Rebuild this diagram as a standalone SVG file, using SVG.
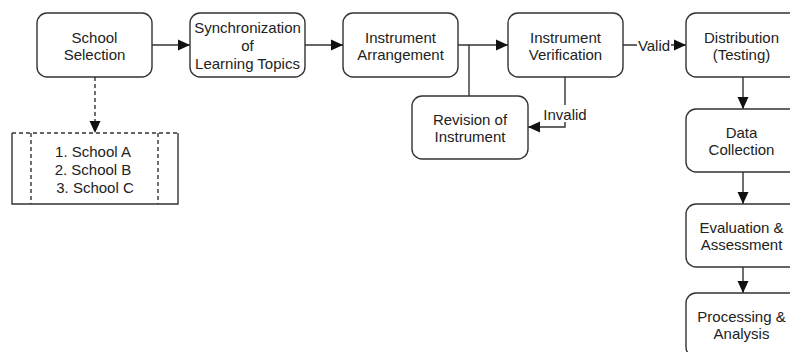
<svg xmlns="http://www.w3.org/2000/svg" width="790" height="352" viewBox="0 0 790 352">
<defs>
<marker id="arr" markerWidth="12" markerHeight="12" refX="12" refY="6" orient="auto" markerUnits="userSpaceOnUse">
<path d="M0,0.5 L12,6 L0,11.5 z" fill="#111"/>
</marker>
<style>
.box{fill:#fff;stroke:#333;stroke-width:1.4}
.ln{fill:none;stroke:#333;stroke-width:1.4}
.dash{fill:none;stroke:#333;stroke-width:1.4;stroke-dasharray:4 3}
text{font-family:"Liberation Sans",Arial,sans-serif;font-size:15px;fill:#222;text-anchor:middle}
</style>
</defs>
<rect width="790" height="352" fill="#fff"/>
<g id="connectors">
<path class="ln" d="M152,45 H190" marker-end="url(#arr)"/>
<path class="ln" d="M305,45 H343" marker-end="url(#arr)"/>
<path class="ln" d="M458,45 H508" marker-end="url(#arr)"/>
<path class="ln" d="M469,45 V96"/>
<path class="ln" d="M565,77 V127 H528" marker-end="url(#arr)"/>
<rect x="542" y="105" width="46" height="17" fill="#fff"/>
<text x="565" y="120">Invalid</text>
<path class="ln" d="M623,45 H686" marker-end="url(#arr)"/>
<rect x="637" y="37" width="34" height="16" fill="#fff"/>
<text x="654" y="50.5">Valid</text>
<path class="ln" d="M743,77 V109" marker-end="url(#arr)"/>
<path class="ln" d="M743,172 V204" marker-end="url(#arr)"/>
<path class="ln" d="M743,267 V293" marker-end="url(#arr)"/>
<path class="dash" d="M95,77 V133" marker-end="url(#arr)"/>
</g>
<g id="school-selection">
<rect class="box" x="37" y="13" width="115" height="64" rx="10"/>
<text x="94.5" y="42.5">School</text>
<text x="94.5" y="59.5">Selection</text>
</g>
<g id="school-list">
<rect x="12" y="133" width="166" height="71" fill="#fff"/>
<path class="ln" d="M12,133 V204 H178 V133"/>
<path class="dash" d="M12,133 H178"/>
<path class="dash" d="M31,133 V204 M158,133 V204"/>
<text x="93" y="157">1. School A</text>
<text x="93" y="175">2. School B</text>
<text x="95" y="193">3. School C</text>
</g>
<g id="synchronization">
<rect class="box" x="190" y="13" width="115" height="64" rx="10"/>
<text x="247.5" y="33">Synchronization</text>
<text x="247.5" y="51">of</text>
<text x="247.5" y="69">Learning Topics</text>
</g>
<g id="instrument-arrangement">
<rect class="box" x="343" y="13" width="115" height="64" rx="10"/>
<text x="400.5" y="42.5">Instrument</text>
<text x="400.5" y="59.5">Arrangement</text>
</g>
<g id="instrument-verification">
<rect class="box" x="508" y="13" width="115" height="64" rx="10"/>
<text x="565.5" y="42.5">Instrument</text>
<text x="565.5" y="59.5">Verification</text>
</g>
<g id="revision">
<rect class="box" x="412" y="96" width="116" height="63" rx="10"/>
<text x="470" y="125">Revision of</text>
<text x="470" y="142">Instrument</text>
</g>
<g id="distribution">
<rect class="box" x="686" y="13" width="115" height="64" rx="10"/>
<text x="741.5" y="42.5">Distribution</text>
<text x="741.5" y="59.5">(Testing)</text>
</g>
<g id="data-collection">
<rect class="box" x="686" y="109" width="115" height="63" rx="10"/>
<text x="741.5" y="138">Data</text>
<text x="741.5" y="155">Collection</text>
</g>
<g id="evaluation">
<rect class="box" x="686" y="204" width="115" height="63" rx="10"/>
<text x="741.5" y="233">Evaluation &amp;</text>
<text x="741.5" y="250">Assessment</text>
</g>
<g id="processing">
<rect class="box" x="686" y="293" width="115" height="64" rx="10"/>
<text x="741.5" y="322">Processing &amp;</text>
<text x="741.5" y="339">Analysis</text>
</g>
</svg>
